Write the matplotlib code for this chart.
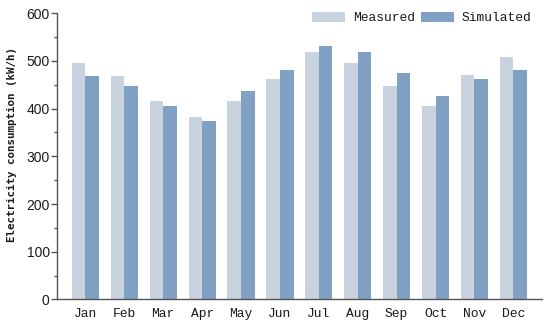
import matplotlib
matplotlib.use("Agg")
import matplotlib.pyplot as plt
import numpy as np
from matplotlib.ticker import MultipleLocator

months = ["Jan", "Feb", "Mar", "Apr", "May", "Jun", "Jul", "Aug", "Sep", "Oct", "Nov", "Dec"]
measured = [496, 469, 417, 383, 417, 462, 518, 496, 447, 406, 470, 508]
simulated = [469, 447, 406, 375, 437, 481, 532, 518, 475, 427, 462, 481]
series_names = ["Measured", "Simulated"]

c_meas = "#C9D3DF"
c_sim = "#80A0C4"
axc = "#555555"

fig = plt.figure(figsize=(5.5, 3.24), dpi=100)
ax = fig.add_axes([0.103, 0.076, 0.882, 0.883])

x = np.arange(len(months))
w = 0.35
ax.bar(x - w / 2, measured, width=w, color=c_meas, label=series_names[0])
ax.bar(x + w / 2, simulated, width=w, color=c_sim, label=series_names[1])

ax.set_xlim(-0.74, 11.73)
ax.set_ylim(0, 600)
ax.yaxis.set_major_locator(MultipleLocator(100))
ax.yaxis.set_minor_locator(MultipleLocator(50))

for s in ["top", "right"]:
    ax.spines[s].set_visible(False)
for s in ["left", "bottom"]:
    ax.spines[s].set_color(axc)
    ax.spines[s].set_linewidth(1.0)

ax.set_xticks(x)
ax.set_xticklabels(months, family="Liberation Mono", fontsize=9.4, color="#1a1a1a")
ax.tick_params(axis="x", length=0, pad=6)
ax.tick_params(axis="y", which="major", length=4.5, width=1, color=axc, labelsize=10, pad=0.5,
               labelcolor="#1a1a1a")
ax.tick_params(axis="y", which="minor", length=2, width=1, color=axc)
for lab in ax.get_yticklabels():
    lab.set_family("Liberation Sans")

ax.set_ylabel("Electricity consumption (kW/h)", family="DejaVu Sans Mono", fontsize=7.8,
              fontweight="bold", color="#1a1a1a")
ax.yaxis.set_label_coords(-0.082, 0.541)

leg = ax.legend(loc="upper right", bbox_to_anchor=(1.003, 1.045), ncol=2, frameon=False,
                prop={"family": "Liberation Mono", "size": 9.4}, handlelength=2.5,
                handleheight=0.75, handletextpad=0.6, columnspacing=0.5)
for t in leg.get_texts():
    t.set_color("#1a1a1a")

fig.savefig("out.png", dpi=100)
